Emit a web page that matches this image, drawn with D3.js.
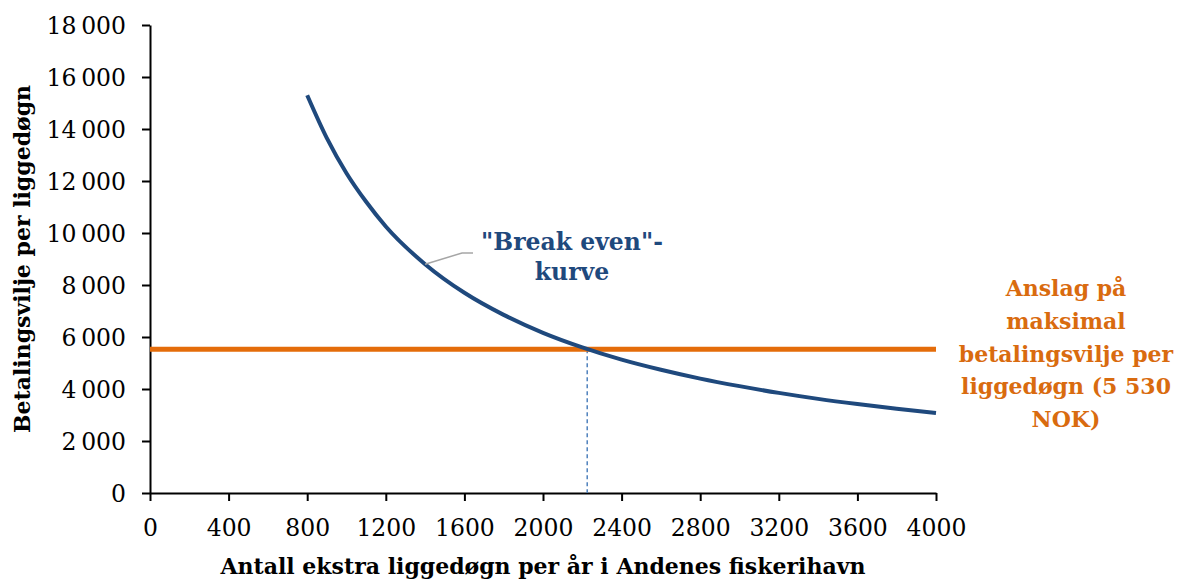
<!DOCTYPE html>
<html>
<head>
<meta charset="utf-8">
<script src="https://cdn.jsdelivr.net/npm/d3@7"></script>
<style>
  body { margin: 0; background: #fff; }
  text { font-family: "DejaVu Serif", "Liberation Serif", serif; }
</style>
</head>
<body>
<script>
// break-even curve
const curveX = [800, 900, 1000, 1100, 1200, 1400, 1600, 1800, 2000, 2200, 2400, 2600, 2800, 3000, 3200, 3400, 3600, 3800, 4000];
const curveY = [15300, 13650, 12300, 11200, 10250, 8800, 7700, 6850, 6160, 5600, 5130, 4740, 4400, 4110, 3850, 3620, 3420, 3240, 3080];

const maxPay = 5530;          // horizontal line
const breakEven = 2225;       // where the two cross
const xTicks = [0, 400, 800, 1200, 1600, 2000, 2400, 2800, 3200, 3600, 4000];
const yTicks = [0, 2000, 4000, 6000, 8000, 10000, 12000, 14000, 16000, 18000];

const curveLabel = ['"Break even"-', 'kurve'];
const lineLabel = ['Anslag på', 'maksimal', 'betalingsvilje per', 'liggedøgn (5 530', 'NOK)'];
const xTitle = 'Antall ekstra liggedøgn per år i Andenes fiskerihavn';
const yTitle = 'Betalingsvilje per liggedøgn';

const W = 1179, H = 579;
const svg = d3.select('body').append('svg')
    .attr('width', W)
    .attr('height', H);

const x = d3.scaleLinear().domain([0, 4000]).range([150, 936]);
const y = d3.scaleLinear().domain([0, 18000]).range([493, 25]);

const fmt = d => d3.format(',')(d).replace(/,/g, '\u2009');

// axes
const xAxis = svg.append('g')
    .attr('transform', `translate(0,${y(0)})`)
    .call(d3.axisBottom(x).tickValues(xTicks).tickSize(8).tickSizeOuter(0).tickFormat(d => d));
const yAxis = svg.append('g')
    .attr('transform', `translate(${x(0)},0)`)
    .call(d3.axisLeft(y).tickValues(yTicks).tickSize(8).tickSizeOuter(0).tickFormat(fmt));

[xAxis, yAxis].forEach(a => {
    a.select('.domain').attr('stroke', '#000').attr('stroke-width', 2);
    a.selectAll('.tick line').attr('stroke', '#000').attr('stroke-width', 2);
    a.selectAll('.tick text')
        .attr('fill', '#000')
        .style('font-size', '23.5px')
        .style('font-family', '"DejaVu Serif", serif');
});
xAxis.selectAll('.tick text').attr('dy', '1.35em');
yAxis.selectAll('.tick text').attr('x', -24).attr('dy', '0.36em');

// vertical dashed line at break-even
svg.append('line')
    .attr('x1', x(breakEven)).attr('x2', x(breakEven))
    .attr('y1', y(maxPay)).attr('y2', y(0))
    .attr('stroke', '#4f81bd')
    .attr('stroke-width', 1.5)
    .attr('stroke-dasharray', '4,3');

// max willingness to pay
svg.append('line')
    .attr('x1', x(0)).attr('x2', x(4000))
    .attr('y1', y(maxPay)).attr('y2', y(maxPay))
    .attr('stroke', '#e46c0a')
    .attr('stroke-width', 5);

// curve
const pts = curveX.map((d, i) => [d, curveY[i]]);
svg.append('path')
    .datum(pts)
    .attr('fill', 'none')
    .attr('stroke', '#1f497d')
    .attr('stroke-width', 4)
    .attr('d', d3.line().x(d => x(d[0])).y(d => y(d[1])).curve(d3.curveMonotoneX));

// leader line for curve label
svg.append('polyline')
    .attr('points', [[x(1400), y(8800)], [462, 253], [473, 253]].map(p => p.join(',')).join(' '))
    .attr('fill', 'none')
    .attr('stroke', '#a6a6a6')
    .attr('stroke-width', 1.5);

svg.append('g').selectAll('text')
    .data(curveLabel)
    .enter()
    .append('text')
    .attr('x', 572)
    .attr('y', (d, i) => 250 + i * 30)
    .attr('text-anchor', 'middle')
    .attr('fill', '#1f497d')
    .style('font-size', '23.5px')
    .style('font-weight', 'bold')
    .text(d => d);

svg.append('g').selectAll('text')
    .data(lineLabel)
    .enter()
    .append('text')
    .attr('x', 1066)
    .attr('y', (d, i) => 296 + i * 32.8)
    .attr('text-anchor', 'middle')
    .attr('fill', '#d96b0f')
    .style('font-size', '22px')
    .style('font-weight', 'bold')
    .text(d => d);

// axis titles
svg.append('text')
    .attr('x', 543)
    .attr('y', 574)
    .attr('text-anchor', 'middle')
    .style('font-size', '22px')
    .style('font-weight', 'bold')
    .text(xTitle);

svg.append('text')
    .attr('transform', 'translate(30,259) rotate(-90)')
    .attr('text-anchor', 'middle')
    .style('font-size', '22px')
    .style('font-weight', 'bold')
    .text(yTitle);
</script>
</body>
</html>
